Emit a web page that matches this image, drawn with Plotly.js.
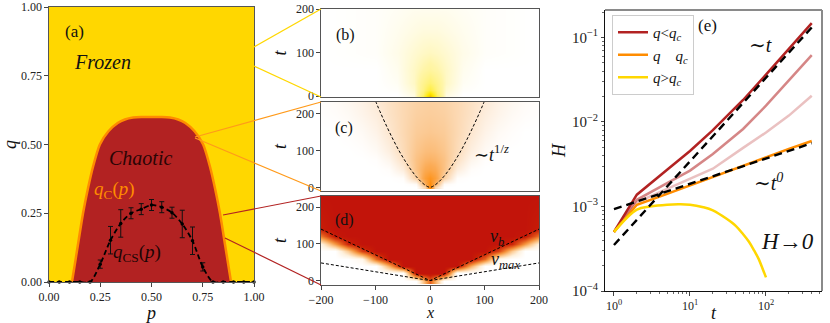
<!DOCTYPE html>
<html>
<head>
<meta charset="utf-8">
<script src="https://cdn.plot.ly/plotly-3.0.1.min.js"></script>
<style>
  html, body { margin: 0; padding: 0; background: #fff; }
  #fig { width: 830px; height: 323px; }
  #fig text { font-family: 'Liberation Serif', 'DejaVu Serif', serif !important; }
</style>
</head>
<body>
<div id="fig"></div>
<script>
// ---- panel (a): phase diagram ----
// boundary q_c(p) of the chaotic dome
var pc = [0.112, 0.125, 0.14, 0.166, 0.19, 0.215, 0.248, 0.29, 0.335, 0.37, 0.41, 0.45, 0.50,
          0.55, 0.59, 0.63, 0.665, 0.71, 0.752, 0.785, 0.81, 0.834, 0.86, 0.875, 0.888];
var qc = [0, 0.06, 0.13, 0.25, 0.34, 0.42, 0.50, 0.548, 0.578, 0.591, 0.598, 0.6, 0.6,
          0.6, 0.598, 0.591, 0.578, 0.548, 0.50, 0.42, 0.34, 0.25, 0.13, 0.06, 0];
// q_cs(p) with error bars
var pcs = [0, 0.05, 0.1, 0.15, 0.2, 0.25, 0.3, 0.35, 0.4, 0.45, 0.5, 0.55, 0.6, 0.65, 0.7, 0.75, 0.8, 0.85, 0.9, 0.95, 1.0];
var qcs = [0, 0, 0, 0, 0, 0.065, 0.152, 0.213, 0.25, 0.265, 0.28, 0.272, 0.252, 0.211, 0.15, 0.055, 0, 0, 0, 0, 0];
var ecs = [0, 0, 0, 0, 0, 0.015, 0.05, 0.05, 0.02, 0.02, 0.02, 0.02, 0.02, 0.05, 0.05, 0.015, 0, 0, 0, 0, 0];

// ---- panel (b): q > q_c, yellow ----
var xb = [-200, -100, -60, -30, -12, 0, 12, 30, 60, 100, 200];
var tb = [0, 5, 15, 30, 60, 100, 150, 200];
var zb = [
  [0, 0, 0, 0.05, 0.35, 1.0, 0.35, 0.05, 0, 0, 0],
  [0, 0, 0, 0.06, 0.30, 0.8, 0.30, 0.06, 0, 0, 0],
  [0, 0, 0.01, 0.08, 0.25, 0.45, 0.25, 0.08, 0.01, 0, 0],
  [0, 0, 0.02, 0.10, 0.22, 0.30, 0.22, 0.10, 0.02, 0, 0],
  [0, 0, 0.03, 0.10, 0.15, 0.18, 0.15, 0.10, 0.03, 0, 0],
  [0, 0.01, 0.04, 0.08, 0.10, 0.11, 0.10, 0.08, 0.04, 0.01, 0],
  [0, 0.01, 0.03, 0.05, 0.06, 0.06, 0.06, 0.05, 0.03, 0.01, 0],
  [0, 0.01, 0.02, 0.03, 0.03, 0.03, 0.03, 0.03, 0.02, 0.01, 0]
];

// ---- panel (c): q ~ q_c, orange ----
var xc = [-200, -175, -150, -125, -100, -75, -50, -25, -10, 0, 10, 25, 50, 75, 100, 125, 150, 175, 200];
var tc = [0, 10, 25, 50, 75, 100, 150, 200, 240];
var zc = [
  [0, 0, 0, 0, 0, 0, 0, 0, 0.3, 1, 0.3, 0, 0, 0, 0, 0, 0, 0, 0],
  [0, 0, 0, 0, 0, 0, 0, 0.04, 0.57, 0.95, 0.57, 0.04, 0, 0, 0, 0, 0, 0, 0],
  [0, 0, 0, 0, 0, 0, 0.02, 0.33, 0.73, 0.85, 0.73, 0.33, 0.02, 0, 0, 0, 0, 0, 0],
  [0, 0, 0, 0, 0, 0.02, 0.14, 0.44, 0.61, 0.65, 0.61, 0.44, 0.14, 0.02, 0, 0, 0, 0, 0],
  [0, 0, 0, 0, 0.01, 0.07, 0.22, 0.44, 0.53, 0.55, 0.53, 0.44, 0.22, 0.07, 0.01, 0, 0, 0, 0],
  [0, 0, 0, 0.01, 0.04, 0.12, 0.26, 0.41, 0.47, 0.48, 0.47, 0.41, 0.26, 0.12, 0.04, 0.01, 0, 0, 0],
  [0, 0, 0.015, 0.04, 0.09, 0.18, 0.28, 0.37, 0.39, 0.40, 0.39, 0.37, 0.28, 0.18, 0.09, 0.04, 0.015, 0, 0],
  [0.01, 0.02, 0.04, 0.08, 0.13, 0.21, 0.28, 0.34, 0.355, 0.36, 0.355, 0.34, 0.28, 0.21, 0.13, 0.08, 0.04, 0.02, 0.01],
  [0.015, 0.03, 0.06, 0.10, 0.16, 0.22, 0.28, 0.32, 0.335, 0.34, 0.335, 0.32, 0.28, 0.22, 0.16, 0.10, 0.06, 0.03, 0.015]
];
// ~t^(1/z) front
var xFrontC = [-100, -90, -77.6, -67.7, -57, -47, -36, -25.7, -16.3, -7.9, 0, 7.9, 16.3, 25.7, 36, 47, 57, 67.7, 77.6, 90, 100];
var tFrontC = [235, 200, 160, 130, 100, 75, 50, 30, 15, 5, 0, 5, 15, 30, 50, 75, 100, 130, 160, 200, 235];

// ---- panel (d): q < q_c, red light cone ----
var xd = [-200, -175, -150, -125, -100, -75, -50, -25, 0, 25, 50, 75, 100, 125, 150, 175, 200];
var td = [0, 20, 40, 60, 80, 100, 120, 140, 230];
var zd = [
  [0, 0, 0, 0, 0, 0, 0, 0, 0.7, 0, 0, 0, 0, 0, 0, 0, 0],
  [0, 0, 0, 0, 0, 0, 0, 1, 1, 1, 0, 0, 0, 0, 0, 0, 0],
  [0, 0, 0, 0, 0, 0.44, 1, 1, 1, 1, 1, 0.44, 0, 0, 0, 0, 0],
  [0, 0, 0, 0.09, 0.67, 1, 1, 1, 1, 1, 1, 1, 0.67, 0.09, 0, 0, 0],
  [0, 0, 0.33, 0.8, 1, 1, 1, 1, 1, 1, 1, 1, 1, 0.8, 0.33, 0, 0],
  [0.12, 0.51, 0.89, 1, 1, 1, 1, 1, 1, 1, 1, 1, 1, 1, 0.89, 0.51, 0.12],
  [0.63, 0.96, 1, 1, 1, 1, 1, 1, 1, 1, 1, 1, 1, 1, 1, 0.96, 0.63],
  [0.93, 1, 1, 1, 1, 1, 1, 1, 1, 1, 1, 1, 1, 1, 1, 1, 0.93],
  [1, 1, 1, 1, 1, 1, 1, 1, 1, 1, 1, 1, 1, 1, 1, 1, 1]
];
var xVb = [-200, 0, 200];
var tVb = [140, 0, 140];
var xVmax = [-200, 0, 200];
var tVmax = [48, 0, 48];

// ---- panel (e): H(t) ----
var tE = [1, 2, 5, 10, 20, 50, 100, 200, 400];
var hRed = [5.0e-4, 1.38e-3, 2.72e-3, 4.54e-3, 8.0e-3, 0.0182, 0.0363, 0.0724, 0.148];
var hMid = [5.0e-4, 1.2e-3, 1.89e-3, 2.66e-3, 4.17e-3, 8.26e-3, 0.0156, 0.031, 0.0617];
var hLight = [5.0e-4, 1.12e-3, 1.62e-3, 2.14e-3, 2.8e-3, 4.94e-3, 7.5e-3, 0.0119, 0.0204];
var hOrange = [5.0e-4, 1.05e-3, 1.41e-3, 1.78e-3, 2.24e-3, 3.0e-3, 3.8e-3, 4.8e-3, 5.96e-3];
var tYellow = [1, 2, 3, 5, 7, 10, 15, 20, 30, 40, 50, 60, 70, 80, 90, 100];
var hYellow = [5e-4, 9.2e-4, 1.0e-3, 1.05e-3, 1.06e-3, 1.05e-3, 9.8e-4, 9.0e-4, 7.2e-4, 5.9e-4, 4.7e-4, 3.8e-4, 3.0e-4, 2.4e-4, 1.85e-4, 1.45e-4];
var tFitT = [1, 420];
var hFitT = [3.5e-4, 0.138];
var tFit0 = [1, 400];
var hFit0 = [9.3e-4, 5.6e-3];

// tick labels for the log t axis
var tTickVals = [1, 10, 100];
var tTickText = ['10<sup>0</sup>', '10<sup>1</sup>', '10<sup>2</sup>'];
var tMinorVals = [2, 3, 4, 5, 6, 7, 8, 9, 20, 30, 40, 50, 60, 70, 80, 90, 200, 300, 400, 500];

const serif = 'Liberation Serif, DejaVu Serif, serif';
const RED = '#b22222', ORANGE = '#ff8c00', GOLD = '#ffd700';
const W = 830, H = 323;

// pixel box -> paper domain
function dx(a, b) { return [a / W, b / W]; }
function dy(top, bottom) { return [1 - bottom / H, 1 - top / H]; }

function frame(extra) {
  var ax = {
    showline: true, mirror: true, linecolor: '#555', linewidth: 1.2,
    showgrid: false, zeroline: false, ticks: 'outside', ticklen: 3.5,
    tickwidth: 1, tickcolor: '#444', automargin: false,
    tickfont: { family: serif, size: 12, color: '#222' }
  };
  for (var k in extra) ax[k] = extra[k];
  return ax;
}

var data = [
  // (a)
  { x: pc, y: qc, mode: 'lines', fill: 'toself', fillcolor: RED, line: { width: 0, shape: 'spline', smoothing: 0.6 },
    xaxis: 'x', yaxis: 'y', showlegend: false, hoverinfo: 'skip' },
  { x: pc, y: qc, mode: 'lines', line: { color: ORANGE, width: 2.5, shape: 'spline', smoothing: 0.6 },
    xaxis: 'x', yaxis: 'y', showlegend: false, hoverinfo: 'skip' },
  { x: pcs, y: qcs, mode: 'lines+markers', line: { color: '#000', width: 1.8, dash: '5px,3px', shape: 'spline', smoothing: 0.8 },
    marker: { color: '#000', size: 3.5 },
    error_y: { type: 'data', array: ecs, color: '#111', thickness: 1, width: 2.5 },
    xaxis: 'x', yaxis: 'y', showlegend: false, hoverinfo: 'skip', cliponaxis: false },

  // (b)
  { type: 'heatmap', x: xb, y: tb, z: zb, zmin: 0, zmax: 1, zsmooth: 'best', showscale: false, hoverinfo: 'skip',
    colorscale: [[0, '#ffffff'], [0.05, '#fffbe3'], [0.15, '#fff5a8'], [0.35, '#fff060'], [0.7, '#ffe800'], [1, '#f5c400']],
    xaxis: 'x2', yaxis: 'y2' },

  // (c)
  { type: 'heatmap', x: xc, y: tc, z: zc, zmin: 0, zmax: 1, zsmooth: 'best', showscale: false, hoverinfo: 'skip',
    colorscale: [[0, '#ffffff'], [0.15, '#fdebd8'], [0.35, '#fbcf9f'], [0.6, '#fbab55'], [1, '#ff8800']],
    xaxis: 'x3', yaxis: 'y3' },
  { x: xFrontC, y: tFrontC, mode: 'lines', line: { color: '#000', width: 1, dash: '3px,2px', shape: 'spline' },
    xaxis: 'x3', yaxis: 'y3', showlegend: false, hoverinfo: 'skip' },

  // (d)
  { type: 'heatmap', x: xd, y: td, z: zd, zmin: 0, zmax: 1, zsmooth: 'best', showscale: false, hoverinfo: 'skip',
    colorscale: [[0, '#ffffff'], [0.15, '#fef0dc'], [0.35, '#fcc68a'], [0.55, '#f4913a'], [0.75, '#df4f17'], [0.92, '#c81d06'], [1, '#c2140a']],
    xaxis: 'x4', yaxis: 'y4' },
  { x: xVb, y: tVb, mode: 'lines', line: { color: '#000', width: 1, dash: '3px,2px' },
    xaxis: 'x4', yaxis: 'y4', showlegend: false, hoverinfo: 'skip' },
  { x: xVmax, y: tVmax, mode: 'lines', line: { color: '#000', width: 1, dash: '3px,2px' },
    xaxis: 'x4', yaxis: 'y4', showlegend: false, hoverinfo: 'skip' },

  // (e)
  { x: tE, y: hLight, mode: 'lines', line: { color: 'rgba(178,34,34,0.28)', width: 2.5 },
    xaxis: 'x5', yaxis: 'y5', showlegend: false, hoverinfo: 'skip' },
  { x: tE, y: hMid, mode: 'lines', line: { color: 'rgba(178,34,34,0.55)', width: 2.5 },
    xaxis: 'x5', yaxis: 'y5', showlegend: false, hoverinfo: 'skip' },
  { x: tE, y: hRed, mode: 'lines', name: '<i>q</i>&lt;<i>q</i><sub><i>c</i></sub>', line: { color: RED, width: 2.5 },
    xaxis: 'x5', yaxis: 'y5', hoverinfo: 'skip' },
  { x: tE, y: hOrange, mode: 'lines', name: '<i>q</i>&nbsp;&nbsp;&nbsp;&nbsp;<i>q</i><sub><i>c</i></sub>', line: { color: ORANGE, width: 2.5 },
    xaxis: 'x5', yaxis: 'y5', hoverinfo: 'skip' },
  { x: tYellow, y: hYellow, mode: 'lines', name: '<i>q</i>&gt;<i>q</i><sub><i>c</i></sub>', line: { color: GOLD, width: 2.5, shape: 'spline' },
    xaxis: 'x5', yaxis: 'y5', hoverinfo: 'skip' },
  { x: tFitT, y: hFitT, mode: 'lines', line: { color: '#000', width: 2.4, dash: '8px,5px' },
    xaxis: 'x5', yaxis: 'y5', showlegend: false, hoverinfo: 'skip' },
  { x: tFit0, y: hFit0, mode: 'lines', line: { color: '#000', width: 2.4, dash: '8px,5px' },
    xaxis: 'x5', yaxis: 'y5', showlegend: false, hoverinfo: 'skip' }
];

var titleFont = { family: serif, size: 18, color: '#111' };

var layout = {
  width: W, height: H,
  margin: { l: 0, r: 0, t: 0, b: 0, pad: 0 },
  paper_bgcolor: '#fff', plot_bgcolor: 'rgba(0,0,0,0)',
  font: { family: serif, color: '#111' },
  showlegend: true,
  legend: {
    x: 612 / W, y: 1 - 15 / H, xanchor: 'left', yanchor: 'top',
    bgcolor: 'rgba(255,255,255,0.85)', bordercolor: '#cccccc', borderwidth: 1,
    font: { family: serif, size: 15, color: '#111' }, itemwidth: 30, tracegroupgap: 0
  },

  xaxis: frame({ domain: dx(49, 254), anchor: 'y', range: [0, 1], tickvals: [0, 0.25, 0.5, 0.75, 1], tickformat: '.2f',
    title: { text: '<i>p</i>', font: titleFont, standoff: 2 } }),
  yaxis: frame({ domain: dy(7, 282), anchor: 'x', range: [0, 1], tickvals: [0, 0.25, 0.5, 0.75, 1], tickformat: '.2f',
    title: { text: '<i>q</i>', font: titleFont, standoff: 4 } }),

  xaxis2: frame({ domain: dx(321, 539), anchor: 'y2', range: [-200, 200], ticks: '', showticklabels: false }),
  yaxis2: frame({ domain: dy(9, 97), anchor: 'x2', range: [-2, 200], tickvals: [0, 100, 200],
    title: { text: '<i>t</i>', font: titleFont, standoff: 4 } }),

  xaxis3: frame({ domain: dx(321, 539), anchor: 'y3', range: [-200, 200], ticks: '', showticklabels: false }),
  yaxis3: frame({ domain: dy(102, 191), anchor: 'x3', range: [-10, 232], tickvals: [0, 100, 200],
    title: { text: '<i>t</i>', font: titleFont, standoff: 4 } }),

  // x label of (d) is placed as an annotation below, to keep it clear of the tick labels
  xaxis4: frame({ domain: dx(321, 539), anchor: 'y4', range: [-200, 200], tickvals: [-200, -100, 0, 100, 200] }),
  yaxis4: frame({ domain: dy(196, 285), anchor: 'x4', range: [-12, 230], tickvals: [0, 100, 200],
    title: { text: '<i>t</i>', font: titleFont, standoff: 4 } }),

  xaxis5: frame({ domain: dx(605, 822), anchor: 'y5', type: 'log', range: [-0.118, 2.737],
    tickmode: 'array', tickvals: tTickVals, ticktext: tTickText,
    mirror: false, linecolor: '#111', linewidth: 1,
    minor: { tickmode: 'array', tickvals: tMinorVals, ticks: 'outside', ticklen: 2, tickwidth: 0.8, tickcolor: '#444', showgrid: false },
    title: { text: '<i>t</i>', font: titleFont, standoff: 0 } }),
  yaxis5: frame({ domain: dy(10, 291), anchor: 'x5', type: 'log', range: [-4, -0.675], dtick: 1,
    exponentformat: 'power', mirror: false, linecolor: '#111', linewidth: 1,
    minor: { ticks: 'outside', ticklen: 2, tickwidth: 0.8, tickcolor: '#444', showgrid: false },
    title: { text: '<i>H</i>', font: titleFont, standoff: 1 } }),

  shapes: [
    // gold background of (a)
    { type: 'rect', xref: 'x domain', yref: 'y domain', x0: 0, x1: 1, y0: 0, y1: 1,
      fillcolor: GOLD, line: { width: 0 }, layer: 'below' },
    // grey top and right spines of (e)
    { type: 'line', xref: 'x5 domain', yref: 'y5 domain', x0: 0, x1: 1, y0: 1, y1: 1, line: { color: '#8a8a8a', width: 2 } },
    { type: 'line', xref: 'x5 domain', yref: 'y5 domain', x0: 1, x1: 1, y0: 0, y1: 1, line: { color: '#8a8a8a', width: 2 } },
    // zoom connectors
    { type: 'line', xref: 'paper', yref: 'paper', x0: 254 / W, y0: 1 - 47 / H, x1: 321 / W, y1: 1 - 9 / H, line: { color: GOLD, width: 1.2 } },
    { type: 'line', xref: 'paper', yref: 'paper', x0: 254 / W, y0: 1 - 66 / H, x1: 321 / W, y1: 1 - 97 / H, line: { color: GOLD, width: 1.2 } },
    { type: 'line', xref: 'paper', yref: 'paper', x0: 195 / W, y0: 1 - 137 / H, x1: 321 / W, y1: 1 - 102 / H, line: { color: '#ff9a1a', width: 1.2 } },
    { type: 'line', xref: 'paper', yref: 'paper', x0: 195 / W, y0: 1 - 138 / H, x1: 321 / W, y1: 1 - 191 / H, line: { color: '#ff9a1a', width: 1.2 } },
    { type: 'line', xref: 'paper', yref: 'paper', x0: 223 / W, y0: 1 - 215 / H, x1: 321 / W, y1: 1 - 196 / H, line: { color: RED, width: 1.2 } },
    { type: 'line', xref: 'paper', yref: 'paper', x0: 225 / W, y0: 1 - 238 / H, x1: 321 / W, y1: 1 - 285 / H, line: { color: RED, width: 1.2 } }
  ],

  annotations: [
    { xref: 'x domain', yref: 'y domain', x: 0.068, y: 0.953, text: '(a)', showarrow: false, font: { family: serif, size: 17, color: '#111' } },
    { xref: 'x', yref: 'y', x: 0.26, y: 0.80, text: '<i>Frozen</i>', showarrow: false, font: { family: serif, size: 20, color: '#111' } },
    { xref: 'x', yref: 'y', x: 0.445, y: 0.45, text: '<i>Chaotic</i>', showarrow: false, font: { family: serif, size: 20, color: '#2a0505' } },
    { xref: 'x', yref: 'y', x: 0.32, y: 0.335, text: '<i>q</i><sub>C</sub>(<i>p</i>)', showarrow: false, font: { family: serif, size: 19, color: ORANGE } },
    { xref: 'x', yref: 'y', x: 0.43, y: 0.105, text: '<i>q</i><sub>CS</sub>(<i>p</i>)', showarrow: false, font: { family: serif, size: 19, color: '#1a0505' } },

    { xref: 'x2 domain', yref: 'y2 domain', x: 0.06, y: 0.83, text: '(b)', showarrow: false, font: { family: serif, size: 16, color: '#111' } },
    { xref: 'x3 domain', yref: 'y3 domain', x: 0.055, y: 0.826, text: '(c)', showarrow: false, font: { family: serif, size: 16, color: '#111' } },
    { xref: 'x3', yref: 'y3', x: 77, y: 92, xanchor: 'left', text: '∼<i>t</i><sup>1/<i>z</i></sup>', showarrow: false, font: { family: serif, size: 18, color: '#111' } },
    { xref: 'x4 domain', yref: 'y4 domain', x: 0.055, y: 0.854, text: '(d)', showarrow: false, font: { family: serif, size: 16, color: '#111' } },
    { xref: 'x4', yref: 'y4', x: 123, y: 116, text: '<i>v</i><sub><i>b</i></sub>', showarrow: false, font: { family: serif, size: 18, color: '#111' } },
    { xref: 'x4', yref: 'y4', x: 138, y: 54, text: '<i>v</i><sub><i>max</i></sub>', showarrow: false, font: { family: serif, size: 18, color: '#111' } },
    { xref: 'x4 domain', yref: 'paper', x: 0.5, y: 0, yanchor: 'bottom', text: '<i>x</i>', showarrow: false, font: { family: serif, size: 16, color: '#111' } },

    { xref: 'x5', yref: 'y5', x: 1.224, y: -0.864, text: '(e)', showarrow: false, font: { family: serif, size: 17, color: '#111' } },
    { xref: 'x5', yref: 'y5', x: 1.934, y: -1.089, text: '∼<i>t</i>', showarrow: false, font: { family: serif, size: 20, color: '#111' } },
    { xref: 'x5', yref: 'y5', x: 2.03, y: -2.71, text: '∼<i>t</i><sup><i>0</i></sup>', showarrow: false, font: { family: serif, size: 20, color: '#111' } },
    { xref: 'x5', yref: 'y5', x: 2.28, y: -3.41, text: '<i>H</i>→<i>0</i>', showarrow: false, font: { family: serif, size: 23, color: '#111' } }
  ]
};

window.onload = function () {
  Plotly.newPlot('fig', data, layout, { staticPlot: true });
};
</script>
</body>
</html>
